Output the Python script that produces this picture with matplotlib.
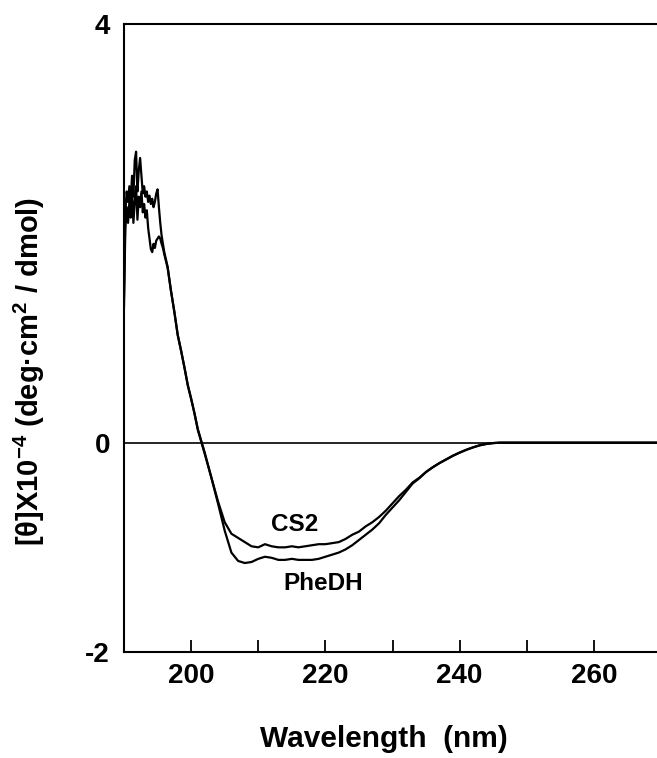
#!/usr/bin/env python3

import matplotlib
matplotlib.use("Agg")
import matplotlib.pyplot as plt

# ----------------------------
# Data
# ----------------------------
wavelength = [
    190.0, 190.2, 190.4, 190.6, 190.8, 191.0, 191.2, 191.4, 191.6, 191.8,
    192.0, 192.2, 192.4, 192.6, 192.8, 193.0, 193.2, 193.4, 193.6, 193.8,
    194.0, 194.2, 194.4, 194.6, 194.8, 195.0, 195.2, 195.4, 195.6, 195.8,
    196.0, 196.5, 197.0, 197.5, 198.0, 198.5, 199.0, 199.5, 200.0, 200.5,
    201, 202, 203, 204, 205, 206, 207, 208, 209, 210,
    211, 212, 213, 214, 215, 216, 217, 218, 219, 220,
    221, 222, 223, 224, 225, 226, 227, 228, 229, 230,
    231, 232, 233, 234, 235, 236, 237, 238, 239, 240,
    241, 242, 243, 244, 245, 246, 250, 255, 260, 265, 270,
]

phedh = [
    1.40, 2.20, 2.40, 2.30, 2.45, 2.30, 2.55, 2.35, 2.70, 2.78,
    2.40, 2.60, 2.72, 2.55, 2.38, 2.45, 2.35, 2.40, 2.30, 2.36,
    2.28, 2.33, 2.25, 2.30, 2.38, 2.42, 2.25, 2.10, 1.98, 1.90,
    1.82, 1.68, 1.45, 1.25, 1.03, 0.88, 0.72, 0.55, 0.42, 0.28,
    0.13, -0.09, -0.33, -0.58, -0.84, -1.05, -1.13, -1.15, -1.14, -1.11,
    -1.09, -1.10, -1.12, -1.12, -1.11, -1.12, -1.12, -1.12, -1.11, -1.09,
    -1.07, -1.05, -1.02, -0.98, -0.93, -0.88, -0.83, -0.77, -0.69, -0.62,
    -0.55, -0.47, -0.39, -0.34, -0.28, -0.235, -0.195, -0.16, -0.125, -0.095,
    -0.068, -0.045, -0.025, -0.012, -0.004, 0.0, 0.0, 0.0, 0.0, 0.0, 0.0,
]

cs2 = [
    1.30, 2.05, 2.25, 2.10, 2.30, 2.15, 2.40, 2.10, 2.30, 2.45,
    2.13, 2.35, 2.25, 2.40, 2.20, 2.28, 2.15, 2.22, 2.05, 1.95,
    1.85, 1.82, 1.90, 1.86, 1.93, 1.95, 1.97, 1.95, 1.90, 1.86,
    1.80, 1.67, 1.45, 1.25, 1.03, 0.88, 0.72, 0.55, 0.42, 0.28,
    0.12, -0.10, -0.33, -0.56, -0.76, -0.87, -0.91, -0.95, -0.99, -1.00,
    -0.97, -0.99, -1.00, -1.00, -0.99, -1.00, -0.99, -0.98, -0.97, -0.97,
    -0.96, -0.95, -0.92, -0.88, -0.85, -0.80, -0.76, -0.71, -0.65, -0.58,
    -0.51, -0.45, -0.38, -0.335, -0.28, -0.235, -0.195, -0.16, -0.125, -0.095,
    -0.068, -0.045, -0.025, -0.012, -0.004, 0.0, 0.0, 0.0, 0.0, 0.0, 0.0,
]

x_major = [200, 220, 240, 260]
x_minor = [210, 230, 250]
y_ticks = [-2, 0, 4]
y_labels = ["-2", "0", "4"]

# ----------------------------
# Style
# ----------------------------
plt.rcParams["font.family"] = ["Liberation Sans", "DejaVu Sans"]
plt.rcParams["font.weight"] = "bold"
plt.rcParams["mathtext.default"] = "regular"
plt.rcParams["axes.unicode_minus"] = False

fig = plt.figure(figsize=(6.57, 7.58), dpi=100)
ax = fig.add_axes([124 / 657, 1 - 652 / 758, 537 / 657, 628 / 758])

ax.plot(wavelength, phedh, color="black", lw=1.6)
ax.plot(wavelength, cs2, color="black", lw=1.6)
ax.axhline(0, color="black", lw=1.2)

ax.text(215.4, -0.78, "CS2", fontsize=17.5, fontweight="bold",
        ha="center", va="center")
ax.text(219.7, -1.35, "PheDH", fontsize=17.5, fontweight="bold",
        ha="center", va="center")

ax.set_xlim(190, 270)
ax.set_ylim(-2, 4)

ax.set_xticks(x_major)
ax.set_xticks(x_minor, minor=True)
ax.set_yticks(y_ticks, labels=y_labels)

ax.tick_params(axis="x", which="both", direction="in", length=9, width=1.3,
               labelsize=20, pad=8)
ax.tick_params(axis="y", length=0, labelsize=20, pad=10)
for lab in ax.get_xticklabels() + ax.get_yticklabels():
    lab.set_fontweight("bold")

for side in ["left", "bottom", "top"]:
    ax.spines[side].set_linewidth(1.5)
ax.spines["right"].set_visible(False)

ax.set_xlabel("Wavelength  (nm)", fontsize=21.5, fontweight="bold")
ax.xaxis.set_label_coords(0.484, -0.151)
ax.xaxis.label.set_va("baseline")

ax.set_ylabel(r"[θ]X10$^{-4}$ (deg·cm$^{2}$ / dmol)", fontsize=21,
              fontweight="bold")
ax.yaxis.set_label_coords(-0.177, 0.447)
ax.yaxis.label.set_va("center")

fig.savefig("out.png", dpi=100)
